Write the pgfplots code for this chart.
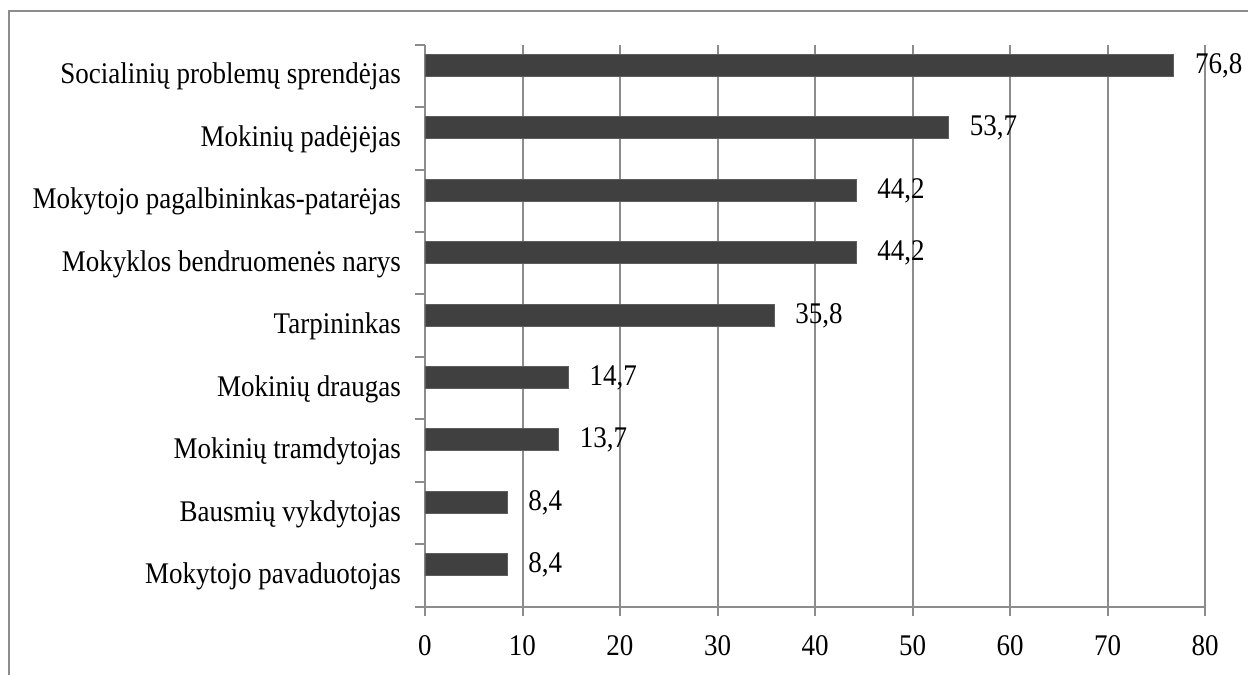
\documentclass[border=0pt]{standalone}
\usepackage{fontspec}
\setmainfont{Liberation Serif}[FakeStretch=0.9]
\usepackage{pgfplots}
\pgfplotsset{compat=1.18}
\definecolor{barfill}{HTML}{404040}
\definecolor{gridgray}{HTML}{8C8C8C}
\newcommand{\lblfont}{\fontsize{30}{34}\selectfont}

\begin{document}
\begin{tikzpicture}[x=1pt,y=1pt]
\useasboundingbox (0,0) rectangle (1248,675);
% outer frame (only left and top edges visible)
\draw[gridgray, line width=2pt] (9,0) -- (9,664.3) -- (1248,664.3);
\begin{axis}[
    at={(425pt,68.3pt)}, anchor=south west,
    scale only axis,
    width=780pt, height=562pt,
    xbar,
    bar width=22pt,
    bar shift=10.7pt,
    xmin=0, xmax=80,
    ymin=-0.5, ymax=8.5,
    xtick={0,10,...,80},
    ytick={0,...,8},
    minor ytick={-0.5,0.5,...,8.5},
    yticklabels={Mokytojo pavaduotojas, Bausmių vykdytojas, Mokinių tramdytojas,
        Mokinių draugas, Tarpininkas, Mokyklos bendruomenės narys,
        Mokytojo pagalbininkas-patarėjas, Mokinių padėjėjas,
        Socialinių problemų sprendėjas},
    axis x line*=bottom,
    axis y line*=left,
    axis line style={gridgray, line width=2pt, -},
    xmajorgrids,
    grid style={gridgray, line width=2pt},
    tick align=outside,
    major tick length=9pt,
    minor tick length=10pt,
    tick style={gridgray, line width=2pt},
    every major y tick/.append style={draw=none},
    /pgf/number format/assume math mode=true,
    /pgf/number format/use comma,
    /pgf/number format/fixed,
    /pgf/number format/fixed zerofill,
    /pgf/number format/precision=1,
    xticklabel style={font=\lblfont, anchor=base, inner sep=0pt, yshift=-40pt,
        /pgf/number format/precision=0, /pgf/number format/fixed zerofill=false},
    yticklabel style={font=\lblfont, anchor=base east, inner sep=0pt, xshift=-15pt, yshift=-8pt},
    nodes near coords,
    every node near coord/.append style={font=\lblfont, anchor=base west,
        inner sep=0pt, xshift=21pt, yshift=-8pt, black},
    clip=false,
]
\addplot[fill=barfill, draw=barfill!85!white, line width=0.8pt] coordinates {
    (8.4,0) (8.4,1) (13.7,2) (14.7,3) (35.8,4) (44.2,5) (44.2,6) (53.7,7) (76.8,8)
};
\end{axis}
\end{tikzpicture}
\end{document}
